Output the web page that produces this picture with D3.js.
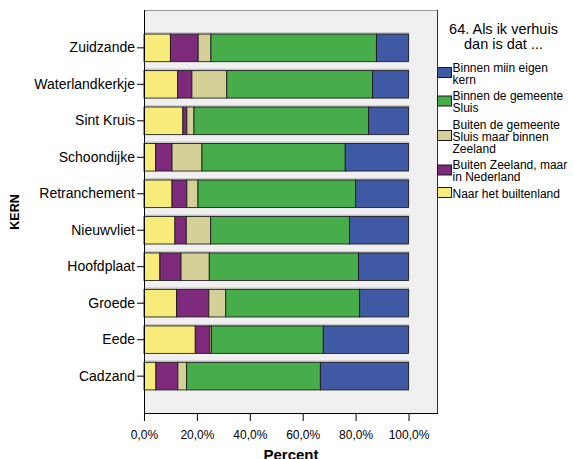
<!DOCTYPE html>
<html>
<head>
<meta charset="utf-8">
<script src="https://cdn.jsdelivr.net/npm/d3@7"></script>
<style>
  html, body { margin: 0; padding: 0; background: #ffffff; }
  svg { display: block; font-family: "Liberation Sans", Arial, sans-serif; }
</style>
</head>
<body>
<svg id="chart" width="573" height="459"></svg>
<script>
// ---- data ----
const categories = ["Zuidzande", "Waterlandkerkje", "Sint Kruis", "Schoondijke", "Retranchement",
                    "Nieuwvliet", "Hoofdplaat", "Groede", "Eede", "Cadzand"];
// percentages per category, stacked left to right
const naarBuitenland  = [10.0, 12.7, 14.7,  4.4, 10.6, 11.7,  6.0, 12.3, 19.4,  4.5];
const buitenZeeland   = [10.5,  5.4,  1.5,  6.2,  5.6,  4.3,  8.0, 12.2,  5.5,  8.3];
const buitenGemeente  = [ 4.8, 13.2,  2.7, 11.3,  4.2,  9.2, 10.7,  6.4,  0.6,  3.3];
const binnenGemeente  = [62.6, 55.1, 66.0, 54.2, 59.6, 52.5, 56.4, 50.6, 42.3, 50.6];
const binnenKern      = [12.1, 13.6, 15.1, 23.9, 20.0, 22.3, 18.9, 18.5, 32.2, 33.3];
const xTicks = [0, 20, 40, 60, 80, 100];
const xTickLabels = ["0,0%", "20,0%", "40,0%", "60,0%", "80,0%", "100,0%"];
const legendTitle = ["64. Als ik verhuis", "dan is dat ..."];
const legendLabels = [
  ["Binnen miin eigen", "kern"],
  ["Binnen de gemeente", "Sluis"],
  ["Buiten de gemeente", "Sluis maar binnen", "Zeeland"],
  ["Buiten Zeeland, maar", "in Nederland"],
  ["Naar het builtenland"]
];
const seriesKeys = ["naarBuitenland", "buitenZeeland", "buitenGemeente", "binnenGemeente", "binnenKern"];
const seriesColors = {
  naarBuitenland: "#f7ec7a",
  buitenZeeland: "#7d2a7d",
  buitenGemeente: "#d5cf98",
  binnenGemeente: "#47ac4a",
  binnenKern: "#3f59a5"
};
const legendKeys = ["binnenKern", "binnenGemeente", "buitenGemeente", "buitenZeeland", "naarBuitenland"];

// ---- build table ----
const seriesArrays = { naarBuitenland, buitenZeeland, buitenGemeente, binnenGemeente, binnenKern };
const table = categories.map((c, i) => {
  const row = { kern: c };
  seriesKeys.forEach(k => row[k] = seriesArrays[k][i]);
  return row;
});

const svg = d3.select("#chart");
const frame = { left: 144, right: 438, top: 10, bottom: 414 };

const x = d3.scaleLinear().domain([0, 100]).range([144, 408.5]);
const y = d3.scaleBand().domain(categories).range([frame.top, frame.bottom])
  .paddingInner(0.245).paddingOuter(0.66);

// plot background
svg.append("rect")
  .attr("x", frame.left).attr("y", frame.top)
  .attr("width", frame.right - frame.left).attr("height", frame.bottom - frame.top)
  .attr("fill", "#f0f0f0");
// top and right borders
svg.append("line").attr("x1", frame.left).attr("x2", frame.right)
  .attr("y1", frame.top + 0.5).attr("y2", frame.top + 0.5).attr("stroke", "#9a9a9a");
svg.append("line").attr("x1", frame.right - 0.5).attr("x2", frame.right - 0.5)
  .attr("y1", frame.top).attr("y2", frame.bottom).attr("stroke", "#333");

const stack = d3.stack().keys(seriesKeys);
const stacked = stack(table);

// bar shadows
svg.append("g").selectAll("rect").data(table).join("rect")
  .attr("x", x(0) + 1)
  .attr("y", d => y(d.kern) - 2)
  .attr("width", d => x(100) - x(0))
  .attr("height", y.bandwidth())
  .attr("fill", "#c9c9c9");

svg.append("g").selectAll("g").data(stacked).join("g")
  .attr("fill", d => seriesColors[d.key])
  .selectAll("rect").data(d => d).join("rect")
  .attr("x", d => x(d[0]))
  .attr("y", d => y(d.data.kern))
  .attr("width", d => x(d[1]) - x(d[0]))
  .attr("height", y.bandwidth())
  .attr("stroke", "#1a1a1a")
  .attr("stroke-opacity", 0.85)
  .attr("stroke-width", 1);

// y axis
const yAxis = d3.axisLeft(y).tickSize(7).tickSizeOuter(0).tickPadding(2);
const gy = svg.append("g").attr("transform", `translate(${frame.left},0)`).call(yAxis);
gy.select(".domain").remove();
gy.selectAll(".tick text").attr("font-size", 14).attr("fill", "#000")
  .attr("font-family", "Liberation Sans, Arial, sans-serif");
gy.selectAll(".tick line").attr("stroke", "#000");
svg.append("line").attr("x1", frame.left + 0.5).attr("x2", frame.left + 0.5)
  .attr("y1", frame.top).attr("y2", frame.bottom).attr("stroke", "#000");

// x axis
const xAxis = d3.axisBottom(x).tickValues(xTicks).tickSize(7).tickSizeOuter(0)
  .tickPadding(9).tickFormat((d, i) => xTickLabels[i]);
const gx = svg.append("g").attr("transform", `translate(0,${frame.bottom})`).call(xAxis);
gx.select(".domain").remove();
gx.selectAll(".tick text").attr("font-size", 12).attr("fill", "#000")
  .attr("font-family", "Liberation Sans, Arial, sans-serif");
gx.selectAll(".tick line").attr("stroke", "#000");
svg.append("line").attr("x1", frame.left).attr("x2", frame.right)
  .attr("y1", frame.bottom - 0.5).attr("y2", frame.bottom - 0.5).attr("stroke", "#000");

// axis titles
svg.append("text").attr("x", (frame.left + frame.right) / 2).attr("y", 460)
  .attr("text-anchor", "middle").attr("font-weight", "bold").attr("font-size", 15)
  .text("Percent");
svg.append("text").attr("transform", `translate(19,${(frame.top + frame.bottom) / 2}) rotate(-90)`)
  .attr("text-anchor", "middle").attr("font-weight", "bold").attr("font-size", 12.5)
  .text("KERN");

// legend
const lg = svg.append("g");
lg.selectAll("text.title").data(legendTitle).join("text").attr("class", "title")
  .attr("x", 503.5).attr("y", (d, i) => 34 + i * 15)
  .attr("text-anchor", "middle").attr("font-size", 14.5).text(d => d);

const lineH = 12;
let base = 71.5;
legendKeys.forEach((k, i) => {
  const lines = legendLabels[i];
  const cy = base + (lines.length - 1) * lineH / 2 - 5;
  lg.append("rect").attr("x", 437.5).attr("y", cy - 5).attr("width", 14).attr("height", 10)
    .attr("fill", seriesColors[k]).attr("stroke", "#1a1a1a").attr("stroke-width", 1);
  lines.forEach((t, j) => {
    lg.append("text").attr("x", 452.5).attr("y", base + j * lineH)
      .attr("font-size", 12).text(t);
  });
  base += lines.length * lineH + 4.5;
});
</script>
</body>
</html>
